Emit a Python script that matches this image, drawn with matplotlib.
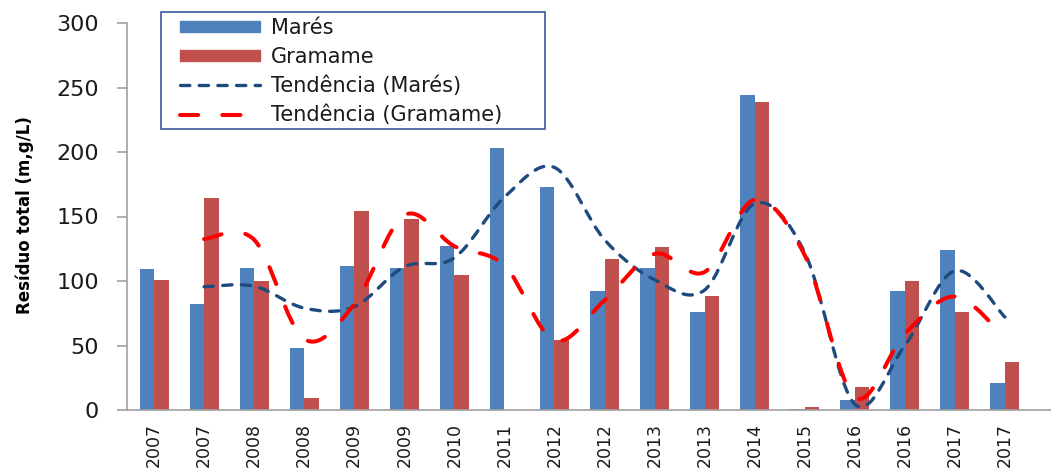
import matplotlib
matplotlib.use("Agg")
import matplotlib.pyplot as plt
import numpy as np
from matplotlib import font_manager
from matplotlib.path import Path
from matplotlib.patches import PathPatch, Rectangle
from matplotlib.lines import Line2D

# values
anos = ["2007", "2007", "2008", "2008", "2009", "2009", "2010", "2011", "2012",
        "2012", "2013", "2013", "2014", "2015", "2016", "2016", "2017", "2017"]
mares = [109, 82, 110, 48, 112, 110, 127, 203, 173, 92, 110, 76, 244, 1, 8, 92, 124, 21]
gramame = [101, 164, 100, 9, 154, 148, 105, 0, 54, 117, 126, 88, 239, 2, 18, 100, 76, 37]

# trend lines (start at the second category)
tend_mares = [95.5, 96, 79, 80, 111, 118, 165, 188, 132, 101, 93, 160, 122, 4.5, 50, 108, 72]
tend_gramame = [132.5, 132, 55, 82, 151, 127, 112, 54, 85, 121, 107, 163, 120, 10, 59, 88, 56]

AZUL = "#4F81BD"
VERMELHO = "#C0504D"
AZUL_ESC = "#1F4A7E"
VERM_TEND = "#FF0000"


def smooth_path(xs, ys):
    # cubic bezier curve through the points (like Excel's smoothed line)
    pts = np.column_stack([xs, ys]).astype(float)
    n = len(pts)
    verts = [pts[0]]
    codes = [Path.MOVETO]
    for i in range(n - 1):
        p0 = pts[i - 1] if i > 0 else pts[i]
        p1 = pts[i]
        p2 = pts[i + 1]
        p3 = pts[i + 2] if i + 2 < n else pts[i + 1]
        verts += [p1 + (p2 - p0) / 6, p2 - (p3 - p1) / 6, p2]
        codes += [Path.CURVE4] * 3
    return Path(verts, codes)


def main():
    fig = plt.figure(figsize=(10.51, 4.68), dpi=100)
    ax = fig.add_axes([127 / 1051, 58 / 468, 924 / 1051, 387 / 468])

    x = np.arange(len(anos))
    w = 0.29
    ax.bar(x - w / 2, mares, w, color=AZUL, zorder=2)
    ax.bar(x + w / 2, gramame, w, color=VERMELHO, zorder=2)

    xt = x[1:]
    st_m = dict(lw=2.4, ls=(0, (2.8, 2.8)), color=AZUL_ESC)
    st_g = dict(lw=2.9, ls=(0, (4.5, 6.0)), color=VERM_TEND)
    pm = PathPatch(smooth_path(xt, tend_mares), fill=False, zorder=3,
                   capstyle="round", **st_m)
    pg = PathPatch(smooth_path(xt, tend_gramame), fill=False, zorder=4,
                   capstyle="round", **st_g)
    ax.add_patch(pm)
    ax.add_patch(pg)

    ax.set_xlim(-0.54, 17.92)
    ax.set_ylim(0, 300)
    ax.set_yticks(range(0, 301, 50))
    ax.tick_params(axis="y", length=7, width=1.2, color="#A0A0A0", pad=13,
                   labelsize=16, labelcolor="#1a1a1a")
    ax.set_xticks(x)
    ax.set_xticklabels(anos, rotation=90, va="top", ha="center")
    ax.tick_params(axis="x", length=0, pad=9.5, labelsize=12.5, labelcolor="#1a1a1a")
    for s in ["top", "right"]:
        ax.spines[s].set_visible(False)
    for s in ["left", "bottom"]:
        ax.spines[s].set_color("#A0A0A0")
        ax.spines[s].set_linewidth(1.2)

    nomes = {f.name for f in font_manager.fontManager.ttflist}
    if "Liberation Sans Narrow" in nomes:
        fam, tam = "Liberation Sans Narrow", 14
    else:
        fam, tam = "DejaVu Sans", 12
    fig.text(25 / 1051, 1 - 215 / 468, "Resíduo total (m,g/L)", rotation=90,
             ha="center", va="center", fontsize=tam, fontweight="bold",
             family=[fam, "DejaVu Sans"])

    handles = [
        Rectangle((0, 0), 1, 1, color=AZUL),
        Rectangle((0, 0), 1, 1, color=VERMELHO),
        Line2D([], [], dash_capstyle="round", **st_m),
        Line2D([], [], dash_capstyle="round", **st_g),
    ]
    labels = ["Marés", "Gramame", "Tendência (Marés)", "Tendência (Gramame)"]
    leg = fig.legend(handles, labels, loc="upper left",
                     bbox_to_anchor=(180 / 1051, 1 - 18 / 468),
                     frameon=False, fontsize=15, borderpad=0, borderaxespad=0,
                     handlelength=3.85, handleheight=0.45, handletextpad=0.5,
                     labelspacing=0.42)
    for t in leg.get_texts():
        t.set_color("#1a1a1a")
    fig.patches.append(Rectangle((161 / 1051, 1 - 129 / 468), 384 / 1051, 117 / 468,
                                 transform=fig.transFigure, fill=False,
                                 edgecolor="#3A5A9A", lw=1.2, zorder=5))

    fig.savefig("out.png", dpi=100)


if __name__ == "__main__":
    main()
